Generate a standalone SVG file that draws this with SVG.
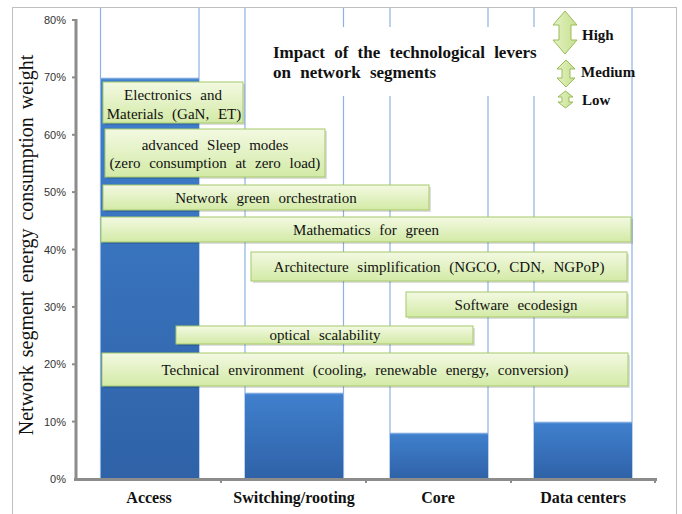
<svg xmlns="http://www.w3.org/2000/svg" width="682" height="514" viewBox="0 0 682 514">
<defs>
<linearGradient id="gBox" x1="0" y1="0" x2="0" y2="1">
<stop offset="0" stop-color="#F3F9E2"/>
<stop offset="1" stop-color="#D3EAA6"/>
</linearGradient>
<linearGradient id="gBar" x1="0" y1="0" x2="0" y2="1">
<stop offset="0" stop-color="#4080CE"/>
<stop offset="1" stop-color="#2F62A7"/>
</linearGradient>
<linearGradient id="gArr" x1="0" y1="0" x2="1" y2="0">
<stop offset="0" stop-color="#E4F2C4"/>
<stop offset="1" stop-color="#C6E08E"/>
</linearGradient>
<style>
.frame{fill:none;stroke:#BFBFBF;stroke-width:1}
.vl{stroke:#8DB3E2;stroke-width:1.2}
.axis{stroke:#8C8C8C;stroke-width:3}
.tick{stroke:#8C8C8C;stroke-width:2}
.bar{fill:url(#gBar)}
.bartop{stroke:#7AA7E0;stroke-width:1.5}
.box{fill:url(#gBox);stroke:#A6C96A;stroke-width:1}
.shadow{fill:#000;opacity:0.13}
.bt{font-family:"Liberation Serif","Times New Roman",serif;font-size:15px;fill:#111;text-anchor:middle;word-spacing:5px}
.tl{font-family:"Liberation Sans",Arial,sans-serif;font-size:11px;fill:#333;text-anchor:end}
.cat{font-family:"Liberation Serif","Times New Roman",serif;font-size:16px;font-weight:bold;fill:#111;text-anchor:middle}
.title{font-family:"Liberation Serif","Times New Roman",serif;font-size:17px;font-weight:bold;fill:#111;word-spacing:5px}
.leg{font-family:"Liberation Serif","Times New Roman",serif;font-size:15px;font-weight:bold;fill:#111}
.arr{fill:url(#gArr);stroke:#9BBB59;stroke-width:1}
</style>
</defs>
<rect width="682" height="514" fill="#FFFFFF"/>
<rect class="frame" x="12.5" y="7.5" width="664" height="520"/>

<g id="gridlines">
<line class="vl" x1="100.5" y1="8" x2="100.5" y2="479"/>
<line class="vl" x1="199" y1="8" x2="199" y2="479"/>
<line class="vl" x1="245" y1="8" x2="245" y2="479"/>
<line class="vl" x1="343.5" y1="8" x2="343.5" y2="479"/>
<line class="vl" x1="390" y1="8" x2="390" y2="479"/>
<line class="vl" x1="488" y1="8" x2="488" y2="479"/>
<line class="vl" x1="534" y1="8" x2="534" y2="479"/>
<line class="vl" x1="632" y1="8" x2="632" y2="479"/>
</g>

<g id="bars">
<rect class="bar" x="101" y="78" width="98" height="401"/>
<line class="bartop" x1="101" y1="78.5" x2="199" y2="78.5"/>
<rect class="bar" x="245" y="393" width="98" height="86"/>
<line class="bartop" x1="245" y1="393.5" x2="343" y2="393.5"/>
<rect class="bar" x="390" y="433" width="98" height="46"/>
<line class="bartop" x1="390" y1="433.5" x2="488" y2="433.5"/>
<rect class="bar" x="534" y="422" width="98" height="57"/>
<line class="bartop" x1="534" y1="422.5" x2="632" y2="422.5"/>
</g>

<g id="axes">
<line class="axis" x1="76" y1="19" x2="76" y2="481"/>
<line class="axis" x1="74" y1="479.5" x2="657" y2="479.5"/>
<line class="tick" x1="72" y1="20" x2="76" y2="20"/>
<line class="tick" x1="72" y1="77.4" x2="76" y2="77.4"/>
<line class="tick" x1="72" y1="134.8" x2="76" y2="134.8"/>
<line class="tick" x1="72" y1="192.1" x2="76" y2="192.1"/>
<line class="tick" x1="72" y1="249.5" x2="76" y2="249.5"/>
<line class="tick" x1="72" y1="306.9" x2="76" y2="306.9"/>
<line class="tick" x1="72" y1="364.3" x2="76" y2="364.3"/>
<line class="tick" x1="72" y1="421.6" x2="76" y2="421.6"/>
<line class="tick" x1="221" y1="479" x2="221" y2="483"/>
<line class="tick" x1="366" y1="479" x2="366" y2="483"/>
<line class="tick" x1="511" y1="479" x2="511" y2="483"/>
<line class="tick" x1="655" y1="479" x2="655" y2="483"/>
<text class="tl" x="66" y="24">80%</text>
<text class="tl" x="66" y="81.4">70%</text>
<text class="tl" x="66" y="138.8">60%</text>
<text class="tl" x="66" y="196.1">50%</text>
<text class="tl" x="66" y="253.5">40%</text>
<text class="tl" x="66" y="310.9">30%</text>
<text class="tl" x="66" y="368.3">20%</text>
<text class="tl" x="66" y="425.6">10%</text>
<text class="tl" x="66" y="483">0%</text>
<text x="33" y="245" transform="rotate(-90 33 245)" font-family="Liberation Serif,Times New Roman,serif" font-size="20" fill="#111" text-anchor="middle" word-spacing="3">Network segment energy consumption weight</text>
<text class="cat" x="149" y="503">Access</text>
<text class="cat" x="294" y="503">Switching/rooting</text>
<text class="cat" x="438" y="503">Core</text>
<text class="cat" x="583" y="503">Data centers</text>
</g>

<g id="title">
<rect x="255" y="27" width="290" height="69" fill="#FFFFFF"/>
<text class="title" x="273" y="58">Impact of the technological levers</text>
<text class="title" x="273" y="78">on network segments</text>
</g>

<g id="legend">
<path class="arr" d="M565,11 L577,25 L571,25 L571,40 L577,40 L565,54 L553,40 L559,40 L559,25 L553,25 Z"/>
<path class="arr" d="M566,60 L575,69 L570,69 L570,78 L575,78 L566,87 L557,78 L562,78 L562,69 L557,69 Z"/>
<path class="arr" d="M565.5,91 L573,97 L569,97 L569,102 L573,102 L565.5,108 L558,102 L562,102 L562,97 L558,97 Z"/>
<text class="leg" x="582" y="40">High</text>
<text class="leg" x="581" y="77">Medium</text>
<text class="leg" x="582" y="105">Low</text>
</g>

<g id="electronics">
<rect class="shadow" x="105" y="84" width="140" height="41"/>
<rect class="box" x="103" y="82" width="140" height="41"/>
<text class="bt" x="173" y="100">Electronics and</text>
<text class="bt" x="174" y="119">Materials (GaN, ET)</text>
</g>
<g id="sleep">
<rect class="shadow" x="107" y="131" width="220" height="48"/>
<rect class="box" x="105" y="129" width="220" height="48"/>
<text class="bt" x="215" y="150">advanced Sleep modes</text>
<text class="bt" x="215" y="168">(zero consumption at zero load)</text>
</g>
<g id="orchestration">
<rect class="shadow" x="105" y="187" width="326" height="25"/>
<rect class="box" x="103" y="185" width="326" height="25"/>
<text class="bt" x="266" y="203">Network green orchestration</text>
</g>
<g id="mathematics">
<rect class="shadow" x="103" y="219" width="530" height="25"/>
<rect class="box" x="101" y="217" width="530" height="25"/>
<text class="bt" x="366" y="235">Mathematics for green</text>
</g>
<g id="architecture">
<rect class="shadow" x="253" y="254" width="376" height="29"/>
<rect class="box" x="251" y="252" width="376" height="29"/>
<text class="bt" x="439" y="272">Architecture simplification (NGCO, CDN, NGPoP)</text>
</g>
<g id="software">
<rect class="shadow" x="408" y="294" width="221" height="25"/>
<rect class="box" x="406" y="292" width="221" height="25"/>
<text class="bt" x="516" y="310">Software ecodesign</text>
</g>
<g id="optical">
<rect class="shadow" x="178" y="328" width="297" height="18"/>
<rect class="box" x="176" y="326" width="297" height="18"/>
<text class="bt" x="325" y="340">optical scalability</text>
</g>
<g id="technical">
<rect class="shadow" x="104" y="355" width="526" height="33"/>
<rect class="box" x="102" y="353" width="526" height="33"/>
<text class="bt" x="365" y="375">Technical environment (cooling, renewable energy, conversion)</text>
</g>
</svg>
